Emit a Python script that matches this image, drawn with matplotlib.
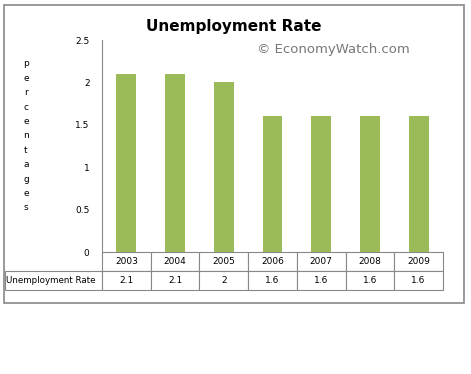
import matplotlib.pyplot as plt
from matplotlib.patches import Rectangle
from matplotlib.table import Table

years = ['2003', '2004', '2005', '2006', '2007', '2008', '2009']
rate = [2.1, 2.1, 2.0, 1.6, 1.6, 1.6, 1.6]
rate_labels = ['2.1', '2.1', '2', '1.6', '1.6', '1.6', '1.6']
yticks = [0, 0.5, 1, 1.5, 2, 2.5]
ytick_labels = ['0', '0.5', '1', '1.5', '2', '2.5']

W, H = 471, 374
fig = plt.figure(figsize=(W / 100, H / 100), dpi=100)
fig.patch.set_facecolor('white')

# outer chart border
fig.patches.append(Rectangle((4 / W, 1 - 303 / H), 460 / W, 298 / H,
                             transform=fig.transFigure, fill=False,
                             edgecolor='#888888', lw=1.2))

ax = fig.add_axes([102 / W, 1 - 252 / H, 341 / W, 212 / H])
x = range(len(years))
ax.bar(x, rate, width=0.41, color='#9BBB59')
ax.set_xlim(-0.5, len(years) - 0.5)
ax.set_ylim(0, 2.5)
ax.set_yticks(yticks)
ax.set_yticklabels(ytick_labels, fontsize=6.5)
ax.tick_params(axis='y', length=0, pad=9)
ax.set_xticks([])
for s in ['top', 'right', 'bottom']:
    ax.spines[s].set_visible(False)
ax.spines['left'].set_color('#888888')

# data table under the axis
tbl = Table(ax, bbox=[-97 / 341, -38 / 212, 1 + 97 / 341, 38 / 212])
for j, yr in enumerate(years):
    tbl.add_cell(0, j + 1, width=1.0, height=1.0, text=yr, loc='center')
    tbl.add_cell(1, j + 1, width=1.0, height=1.0, text=rate_labels[j], loc='center')
tbl.add_cell(1, 0, width=1.99, height=1.0, text='Unemployment Rate', loc='left')
tbl.auto_set_font_size(False)
tbl.set_fontsize(6.5)
for (r, c), cell in tbl.get_celld().items():
    cell.set_edgecolor('#888888')
    cell.set_linewidth(0.8)
    if c == 0:
        cell.PAD = 0.01
        cell.get_text().set_fontsize(6.3)
ax.add_table(tbl)

fig.text(234 / W, 1 - 26 / H, 'Unemployment Rate', ha='center', va='center',
         fontsize=11, fontweight='bold')
fig.text(333 / W, 1 - 50 / H, '\u00a9 EconomyWatch.com', ha='center',
         va='center', fontsize=9.5, color='#777777')

label = 'percentages'
for i, ch in enumerate(label):
    fig.text(26 / W, 1 - (64 + i * 14.4) / H, ch, ha='center', va='center',
             fontsize=6.5)

fig.savefig('out.png', dpi=100)
